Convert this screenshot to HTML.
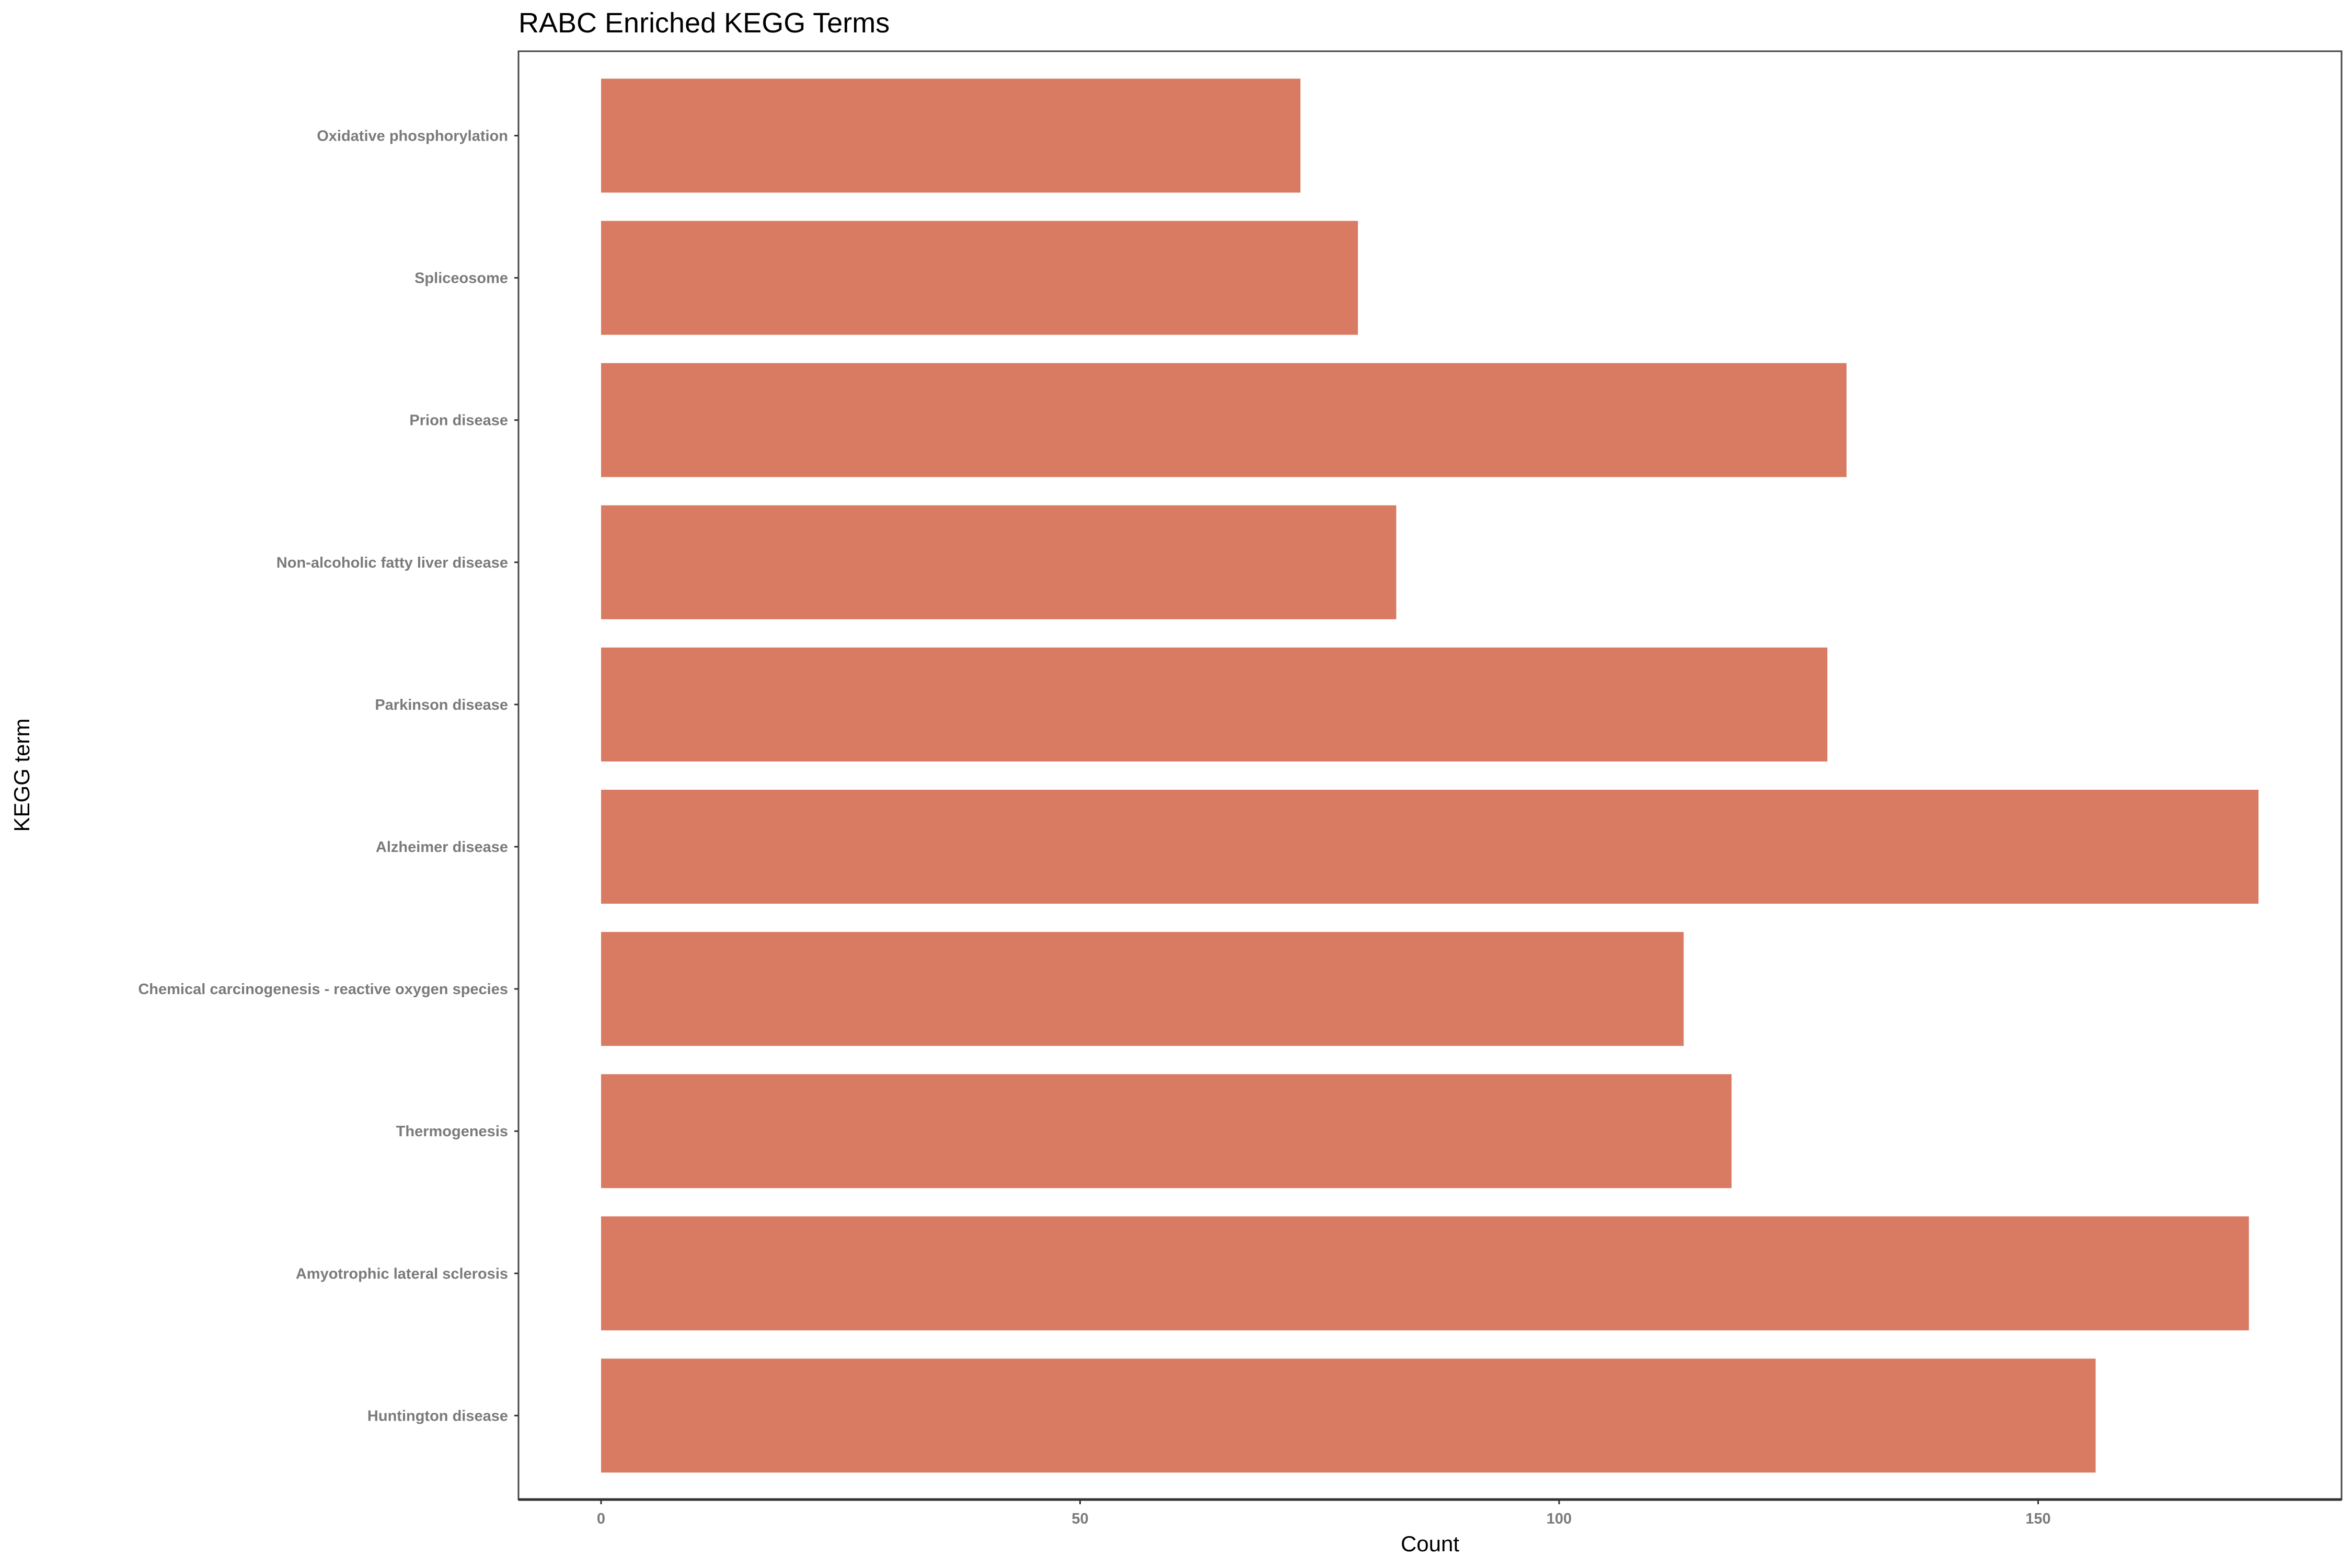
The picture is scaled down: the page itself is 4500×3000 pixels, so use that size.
<!DOCTYPE html>
<html><head><meta charset="utf-8"><style>
html,body{margin:0;padding:0;background:#fff;}
svg{display:block;}
text{font-family:"Liberation Sans",Arial,sans-serif;}
</style></head><body>
<svg id="chart" width="4500" height="3000" viewBox="0 0 4500 3000" xmlns="http://www.w3.org/2000/svg">
<rect width="4500" height="3000" fill="#fff"/>
<text x="992" y="62" font-size="54" fill="#000">RABC Enriched KEGG Terms</text>
<text transform="translate(56,1483) rotate(-90)" text-anchor="middle" font-size="42" fill="#000">KEGG term</text>
<text x="2736" y="2968" text-anchor="middle" font-size="42" fill="#000">Count</text>
<g id="bars"></g><g id="yaxis"></g><g id="xaxis"></g>
<rect x="992" y="98" width="3488" height="2771" fill="none" stroke="#444" stroke-width="3"/>
<line x1="992" y1="2869" x2="4480" y2="2869" stroke="#333" stroke-width="5"/>
</svg>
<script>
const categories = ["Oxidative phosphorylation","Spliceosome","Prion disease","Non-alcoholic fatty liver disease","Parkinson disease","Alzheimer disease","Chemical carcinogenesis - reactive oxygen species","Thermogenesis","Amyotrophic lateral sclerosis","Huntington disease"];
const counts = [73,79,130,83,128,173,113,118,172,156];
const xTicks = [0,50,100,150];

const NS="http://www.w3.org/2000/svg";
const x0=1150, pxPerUnit=18.33;
const xs=v=>x0+v*pxPerUnit;
const firstCenter=259.5, pitch=272.1, barH=218;
const ys=i=>firstCenter+i*pitch;
function mk(tag,attrs,parent){const e=document.createElementNS(NS,tag);for(const k in attrs)e.setAttribute(k,attrs[k]);parent.appendChild(e);return e;}
const gb=document.getElementById('bars'), gy=document.getElementById('yaxis'), gx=document.getElementById('xaxis');
categories.forEach((c,i)=>{
  const r=mk('rect',{x:xs(0),y:ys(i)-barH/2,width:xs(counts[i])-xs(0),height:barH,fill:'#D97A62'},gb);
  
  
  const t=mk('line',{x1:984,y1:ys(i),x2:992,y2:ys(i),stroke:'#333','stroke-width':3},gy);
  
  
  const l=mk('text',{x:972,y:ys(i)+10,'text-anchor':'end','font-size':29,'font-weight':'bold',fill:'#7a7a7a'},gy);
  l.textContent=c;
  
  
});
xTicks.forEach(v=>{
  const t=mk('line',{x1:xs(v),y1:2869,x2:xs(v),y2:2878,stroke:'#333','stroke-width':3},gx);
  
  
  const l=mk('text',{x:xs(v),y:2915,'text-anchor':'middle','font-size':29,'font-weight':'bold',fill:'#7a7a7a'},gx);
  l.textContent=v;
  
  
});
</script>
</body></html>
